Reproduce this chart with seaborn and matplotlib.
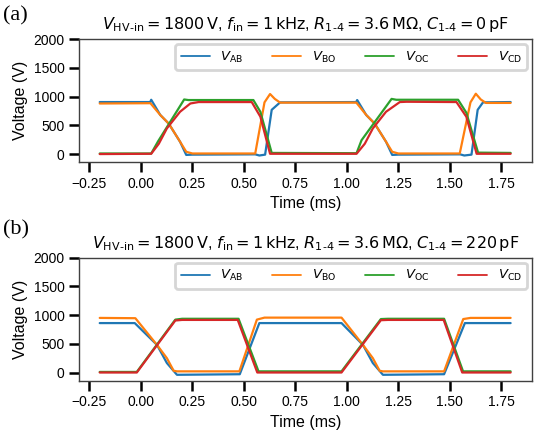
import matplotlib
matplotlib.use("Agg")
import matplotlib.pyplot as plt
import pandas as pd
import seaborn as sns

# ---------------------------------------------------------------------------
# waveform breakpoints (time in ms, voltage in V)
# ---------------------------------------------------------------------------
trace_names = ["AB", "BO", "OC", "CD"]
trace_colors = ["#1f77b4", "#ff7f0e", "#2ca02c", "#d62728"]

# (a) C1-4 = 0 pF
t_ab_a = [-0.2, 0.045, 0.05, 0.094, 0.135, 0.19, 0.22, 0.25, 0.555, 0.575, 0.603,
          0.635, 0.676, 1.045, 1.05, 1.094, 1.135, 1.19, 1.22, 1.25, 1.55, 1.57,
          1.605, 1.635, 1.661, 1.795]
v_ab_a = [905, 905, 945, 680, 530, 215, -15, -10, -5, -25, -10,
          770, 900, 905, 940, 680, 530, 215, -15, -10, -5, -25,
          -10, 770, 900, 905]

t_bo_a = [-0.2, 0.046, 0.094, 0.135, 0.19, 0.22, 0.25, 0.555, 0.6, 0.627, 0.65,
          0.676, 1.046, 1.094, 1.135, 1.19, 1.22, 1.25, 1.548, 1.6, 1.626, 1.65,
          1.675, 1.795]
v_bo_a = [880, 885, 680, 530, 215, 40, 10, 10, 900, 1045, 960,
          895, 895, 680, 530, 215, 40, 10, 10, 900, 1050, 950,
          890, 890]

t_oc_a = [-0.2, 0.05, 0.083, 0.21, 0.23, 0.546, 0.58, 0.635, 1.047, 1.071, 1.217,
          1.24, 1.54, 1.58, 1.637, 1.795]
v_oc_a = [10, 10, 220, 950, 940, 940, 735, 20, 15, 240, 960,
          945, 945, 720, 25, 20]

t_cd_a = [-0.2, 0.05, 0.087, 0.126, 0.19, 0.24, 0.28, 0.538, 0.58, 0.627, 1.047,
          1.087, 1.126, 1.19, 1.257, 1.29, 1.532, 1.58, 1.63, 1.795]
v_cd_a = [0, 5, 180, 446, 736, 880, 905, 905, 650, 5, 5,
          180, 446, 736, 905, 910, 905, 650, 5, 5]

# (b) C1-4 = 220 pF
t_ab_b = [-0.2, -0.03, 0.078, 0.126, 0.175, 0.48, 0.575, 0.974, 1.078, 1.126,
          1.175, 1.472, 1.573, 1.795]
v_ab_b = [860, 860, 480, 165, -40, -30, 860, 860, 480, 165,
          -40, -30, 860, 860]

t_bo_b = [-0.2, -0.027, 0.078, 0.126, 0.159, 0.175, 0.478, 0.563, 0.6, 0.974,
          1.078, 1.126, 1.159, 1.175, 1.472, 1.565, 1.6, 1.795]
v_bo_b = [950, 945, 480, 250, 30, 20, 20, 920, 955, 955,
          480, 250, 30, 20, 20, 930, 950, 950]

t_oc_b = [-0.2, -0.02, 0.167, 0.2, 0.474, 0.571, 0.974, 1.165, 1.2, 1.472,
          1.564, 1.795]
v_oc_b = [10, 10, 920, 935, 935, 20, 20, 930, 935, 935,
          20, 20]

t_cd_b = [-0.2, -0.02, 0.167, 0.2, 0.47, 0.565, 0.974, 1.165, 1.2, 1.47,
          1.56, 1.795]
v_cd_b = [0, 0, 905, 915, 915, 0, 0, 910, 915, 915,
          0, 0]

panel_tags = ["(a)", "(b)"]
cap_values = ["0", "220"]


def build_frame(times, volts):
    rows = []
    for name, t, v in zip(trace_names, times, volts):
        rows.append(pd.DataFrame({"time": t, "voltage": v,
                                  "trace": rf"$V_{{\mathrm{{{name}}}}}$"}))
    return pd.concat(rows, ignore_index=True)


df_a = build_frame([t_ab_a, t_bo_a, t_oc_a, t_cd_a],
                   [v_ab_a, v_bo_a, v_oc_a, v_cd_a])
df_b = build_frame([t_ab_b, t_bo_b, t_oc_b, t_cd_b],
                   [v_ab_b, v_bo_b, v_oc_b, v_cd_b])

sns.set_theme(style="ticks")
plt.rcParams["font.family"] = ["Liberation Sans", "DejaVu Sans"]
plt.rcParams["mathtext.fontset"] = "dejavusans"
for key in ["text.color", "axes.labelcolor", "xtick.color", "ytick.color"]:
    plt.rcParams[key] = "black"

fig = plt.figure(figsize=(5.42, 4.30), dpi=100)
ax_a = fig.add_axes([0.146, 0.623, 0.836, 0.286])
ax_b = fig.add_axes([0.146, 0.115, 0.836, 0.286])

palette = dict(zip([rf"$V_{{\mathrm{{{n}}}}}$" for n in trace_names], trace_colors))

for ax, df, tag, cap, ytag in zip([ax_a, ax_b], [df_a, df_b], panel_tags,
                                  cap_values, [0.963, 0.465]):
    sns.lineplot(data=df, x="time", y="voltage", hue="trace", palette=palette,
                 estimator=None, sort=False, linewidth=1.6, ax=ax)
    ax.set_xlim(-0.3, 1.9)
    ax.set_ylim(-140, 2000)
    ax.set_xticks([-0.25, 0, 0.25, 0.5, 0.75, 1.0, 1.25, 1.5, 1.75])
    ax.set_yticks([0, 500, 1000, 1500, 2000])
    ax.set_xlabel("Time (ms)", fontsize=11.5)
    ax.set_ylabel("Voltage (V)", fontsize=11.5)
    ax.tick_params(axis="both", labelsize=10, length=7, width=1.8,
                   color="black", labelcolor="black", direction="out")
    for sp in ax.spines.values():
        sp.set_color("0.25")
        sp.set_linewidth(1.0)
    title = (r"$V_{\mathrm{HV\text{-}in}} = 1800\,\mathrm{V}$, "
             r"$f_{\mathrm{in}} = 1\,\mathrm{kHz}$, "
             r"$R_{1\text{-}4} = 3.6\,\mathrm{M\Omega}$, "
             rf"$C_{{1\text{{-}}4}} = {cap}\,\mathrm{{pF}}$")
    ax.set_title(title, fontsize=11.5, pad=7, color="black")
    fig.text(0.005, ytag, tag, family="Liberation Serif", fontsize=16,
             va="center", ha="left", color="black")
    leg = ax.legend(loc="upper right", ncol=4, fontsize=9.5, frameon=True,
                    handlelength=2.2, columnspacing=2.2, handletextpad=0.8,
                    borderaxespad=0.4, fancybox=True)
    leg.get_frame().set_edgecolor("#cccccc")
    leg.get_frame().set_linewidth(2.0)
    for line in leg.get_lines():
        line.set_linewidth(1.3)

fig.savefig("out.png", dpi=100)
